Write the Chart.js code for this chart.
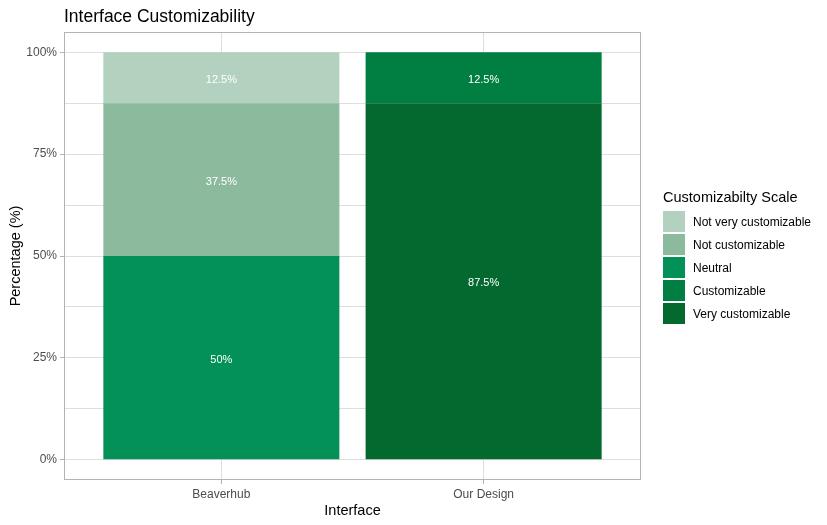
<!DOCTYPE html>
<html>
<head>
<meta charset="utf-8">
<script src="https://cdn.jsdelivr.net/npm/chart.js@4"></script>
<style>
  body { margin: 0; background: #fff; }
  #wrap { width: 827px; height: 525px; position: relative; }
  #legend { position: absolute; left: 663px; top: 187px; font-family: 'Liberation Sans', Arial, sans-serif; }
  #legend .ttl { font-size: 14.5px; color: #000; height: 22px; line-height: 20px; margin-bottom: 2px; white-space: nowrap; }
  #legend .row { display: flex; align-items: center; height: 21px; margin-bottom: 2px; font-size: 12px; color: #000; white-space: nowrap; }
  #legend .key { width: 22px; height: 21px; margin-right: 8px; }
</style>
</head>
<body>
<div id="wrap"><canvas id="chart"></canvas><div id="legend"></div></div>
<script>
const interfaces = ["Beaverhub", "Our Design"];
const notVeryCustomizable = [12.5, 0];
const notCustomizable = [37.5, 0];
const neutral = [50, 0];
const customizable = [0, 12.5];
const veryCustomizable = [0, 87.5];
const yTicks = [0, 12.5, 25, 37.5, 50, 62.5, 75, 87.5, 100];

const FONT = "'Liberation Sans', Arial, sans-serif";

function toPoints(values) {
    return values.map((v, i) => ({ x: i + 1, y: v }));
}

// first dataset sits at the bottom of the stack
const series = [
    { label: "Very customizable", values: veryCustomizable, color: "#04692f" },
    { label: "Customizable", values: customizable, color: "#017f42" },
    { label: "Neutral", values: neutral, color: "#039157" },
    { label: "Not customizable", values: notCustomizable, color: "#8bbb9c" },
    { label: "Not very customizable", values: notVeryCustomizable, color: "#b2d2bf" }
];

const panelBorder = {
    id: "panelBorder",
    afterDatasetsDraw(chart) {
        const { ctx, chartArea: a } = chart;
        ctx.save();
        ctx.strokeStyle = "#b3b3b3";
        ctx.lineWidth = 1;
        ctx.strokeRect(a.left + 0.5, a.top + 0.5, a.right - a.left - 1, a.bottom - a.top - 1);
        ctx.restore();
    }
};

const barLabels = {
    id: "barLabels",
    afterDatasetsDraw(chart) {
        const ctx = chart.ctx;
        ctx.save();
        ctx.fillStyle = "#ffffff";
        ctx.font = "11px " + FONT;
        ctx.textAlign = "center";
        ctx.textBaseline = "middle";
        chart.data.datasets.forEach((ds, di) => {
            chart.getDatasetMeta(di).data.forEach((bar, i) => {
                const v = ds.data[i].y;
                if (!v) return;
                ctx.fillText(v + "%", bar.x, (bar.y + bar.base) / 2 + 2);
            });
        });
        ctx.restore();
    }
};

const plotTitle = {
    id: "plotTitle",
    afterDraw(chart) {
        const ctx = chart.ctx;
        ctx.save();
        ctx.fillStyle = "#000000";
        ctx.font = "17.5px " + FONT;
        ctx.textAlign = "left";
        ctx.textBaseline = "middle";
        ctx.fillText("Interface Customizability", chart.chartArea.left, 17);
        ctx.restore();
    }
};

new Chart(document.getElementById("chart"), {
    type: "bar",
    data: {
        datasets: series.map(s => ({
            label: s.label,
            data: toPoints(s.values),
            backgroundColor: s.color,
            borderWidth: 0,
            categoryPercentage: 1,
            barPercentage: 0.9
        }))
    },
    options: {
        responsive: true,
        maintainAspectRatio: false,
        animation: false,
        layout: { padding: { top: 32, right: 186, left: 0, bottom: 0 } },
        scales: {
            x: {
                type: "linear",
                stacked: true,
                offset: false,
                min: 0.4,
                max: 2.6,
                afterBuildTicks: scale => { scale.ticks = interfaces.map((c, i) => ({ value: i + 1 })); },
                afterFit: scale => { scale.height = 45; },
                ticks: {
                    callback: v => interfaces[v - 1],
                    color: "#4d4d4d",
                    font: { family: FONT, size: 12 },
                    padding: 3
                },
                grid: { color: "#dedede", tickColor: "#b3b3b3", tickLength: 4, offset: false },
                border: { display: false },
                title: {
                    display: true,
                    text: "Interface",
                    color: "#000000",
                    font: { family: FONT, size: 14.5 },
                    padding: { top: 0, bottom: 5 }
                }
            },
            y: {
                stacked: true,
                min: -5,
                max: 105,
                afterBuildTicks: scale => { scale.ticks = yTicks.map(v => ({ value: v })); },
                afterFit: scale => { scale.width = 64; },
                ticks: {
                    callback: v => (v % 25 === 0 ? v + "%" : ""),
                    color: "#4d4d4d",
                    font: { family: FONT, size: 12 },
                    padding: 3
                },
                grid: {
                    color: "#dedede",
                    tickColor: ctx => (ctx.tick && ctx.tick.value % 25 === 0 ? "#b3b3b3" : "rgba(0,0,0,0)"),
                    tickLength: 4
                },
                border: { display: false },
                title: {
                    display: true,
                    text: "Percentage (%)",
                    color: "#000000",
                    font: { family: FONT, size: 14.5 },
                    padding: { top: 7, bottom: 0 }
                }
            }
        },
        plugins: {
            legend: { display: false },
            tooltip: { enabled: false }
        }
    },
    plugins: [panelBorder, barLabels, plotTitle]
});

// legend, top to bottom in the same order as the stack reads from the top
const legendBox = document.getElementById("legend");
let html = '<div class="ttl">Customizabilty Scale</div>';
series.slice().reverse().forEach(s => {
    html += '<div class="row"><span class="key" style="background:' + s.color + '"></span>' + s.label + '</div>';
});
legendBox.innerHTML = html;
</script>
</body>
</html>
